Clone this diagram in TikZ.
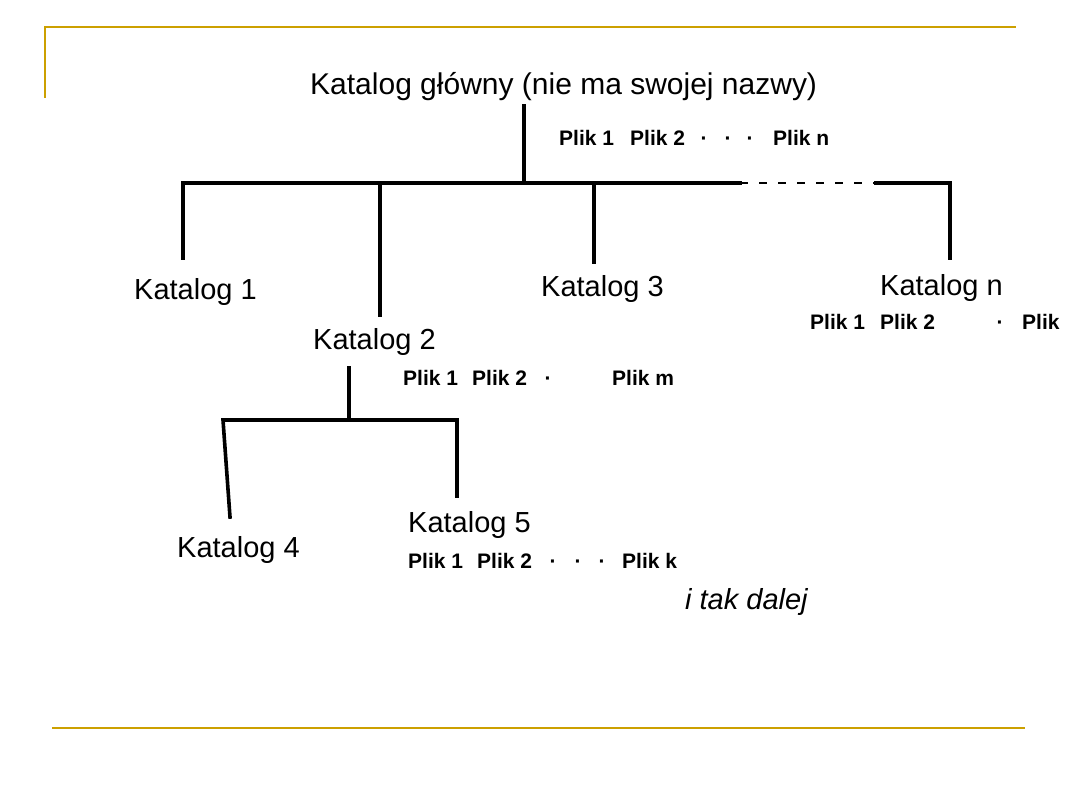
\documentclass[tikz,border=0pt]{standalone}
\usepackage{fontspec}
\setmainfont{Liberation Sans}
\definecolor{gold}{RGB}{204,160,0}
\tikzset{
  kat/.style={inner sep=0pt, anchor=base west, font=\fontsize{29}{34}\selectfont},
  title/.style={inner sep=0pt, anchor=base west, font=\fontsize{30}{35}\selectfont},
  plik/.style={inner sep=0pt, anchor=base west, font=\fontsize{21}{26}\bfseries},
  dotn/.style={inner sep=0pt, anchor=base, font=\fontsize{21}{26}\bfseries},
  dalej/.style={inner sep=0pt, anchor=base west, font=\fontsize{29}{34}\itshape},
  tree/.style={line width=3.6pt, black, line cap=rect},
  dashline/.style={line width=2pt, black, dash pattern=on 8pt off 11pt},
  frame/.style={line width=2pt, gold}
}
\begin{document}
\begin{tikzpicture}[x=1pt,y=-1pt]
\useasboundingbox[fill=white] (0,0) rectangle (1080,810);
% frame lines
\coordinate (f1) at (45,98);
\coordinate (f2) at (45,27);
\coordinate (f3) at (1016,27);
\coordinate (b1) at (52,728);
\coordinate (b2) at (1025,728);
\draw[frame] (f1) -- (f2) -- (f3);
\draw[frame] (b1) -- (b2);

% texts
\node[title] (root) at (310,95) {Katalog główny (nie ma swojej nazwy)};
\node[plik] (r1) at (559,146) {Plik 1};
\node[plik] (r2) at (630,146) {Plik 2};
\node[dotn] (rd1) at (704,146) {·};
\node[dotn] (rd2) at (728,146) {·};
\node[dotn] (rd3) at (750,146) {·};
\node[plik] (rn) at (773,146) {Plik n};

\node[kat] (k1) at (134,300) {Katalog 1};
\node[kat] (k2) at (313,350) {Katalog 2};
\node[kat] (k3) at (541,297) {Katalog 3};
\node[kat] (kn) at (880,296) {Katalog n};
\node[kat] (k4) at (177,557) {Katalog 4};
\node[kat] (k5) at (408,532) {Katalog 5};

\node[plik] (n1) at (810,330) {Plik 1};
\node[plik] (n2) at (880,330) {Plik 2};
\node[dotn] (nd1) at (1000,330) {·};
\begin{scope}
\clip (0,0) rectangle (1062,810);
\node[plik] (nk) at (1022,330) {Plik};
\end{scope}

\node[plik] (m1) at (403,386) {Plik 1};
\node[plik] (m2) at (472,386) {Plik 2};
\node[dotn] (md1) at (548,386) {·};
\node[plik] (mm) at (612,386) {Plik m};

\node[plik] (p1) at (408,568) {Plik 1};
\node[plik] (p2) at (477,568) {Plik 2};
\node[dotn] (pd1) at (553,568) {·};
\node[dotn] (pd2) at (578,568) {·};
\node[dotn] (pd3) at (602,568) {·};
\node[plik] (pk) at (622,568) {Plik k};

\node[dalej] (dal) at (685,609) {i tak dalej};

% tree coordinates
\coordinate (rt) at (524,106);
\coordinate (rj) at (524,183);
\coordinate (hL) at (183,183);
\coordinate (hA) at (740,183);
\coordinate (hB) at (876,183);
\coordinate (hR) at (950,183);
\coordinate (d1) at (183,258);
\coordinate (d2t) at (380,183);
\coordinate (d2) at (380,315);
\coordinate (d3t) at (594,183);
\coordinate (d3) at (594,262);
\coordinate (dn) at (950,258);
\coordinate (s0) at (349,368);
\coordinate (sj) at (349,420);
\coordinate (sL) at (223,420);
\coordinate (sR) at (457,420);
\coordinate (d4) at (230,517);
\coordinate (d5) at (457,496);

\draw[tree] (rt) -- (rj);
\draw[tree] (d1) -- (hL) -- (hA);
\draw[dashline] (hA) -- (hB);
\draw[tree] (hB) -- (hR) -- (dn);
\draw[tree] (d2t) -- (d2);
\draw[tree] (d3t) -- (d3);
\draw[tree] (s0) -- (sj);
\draw[tree] (d4) -- (sL) -- (sR) -- (d5);
\end{tikzpicture}
\end{document}
